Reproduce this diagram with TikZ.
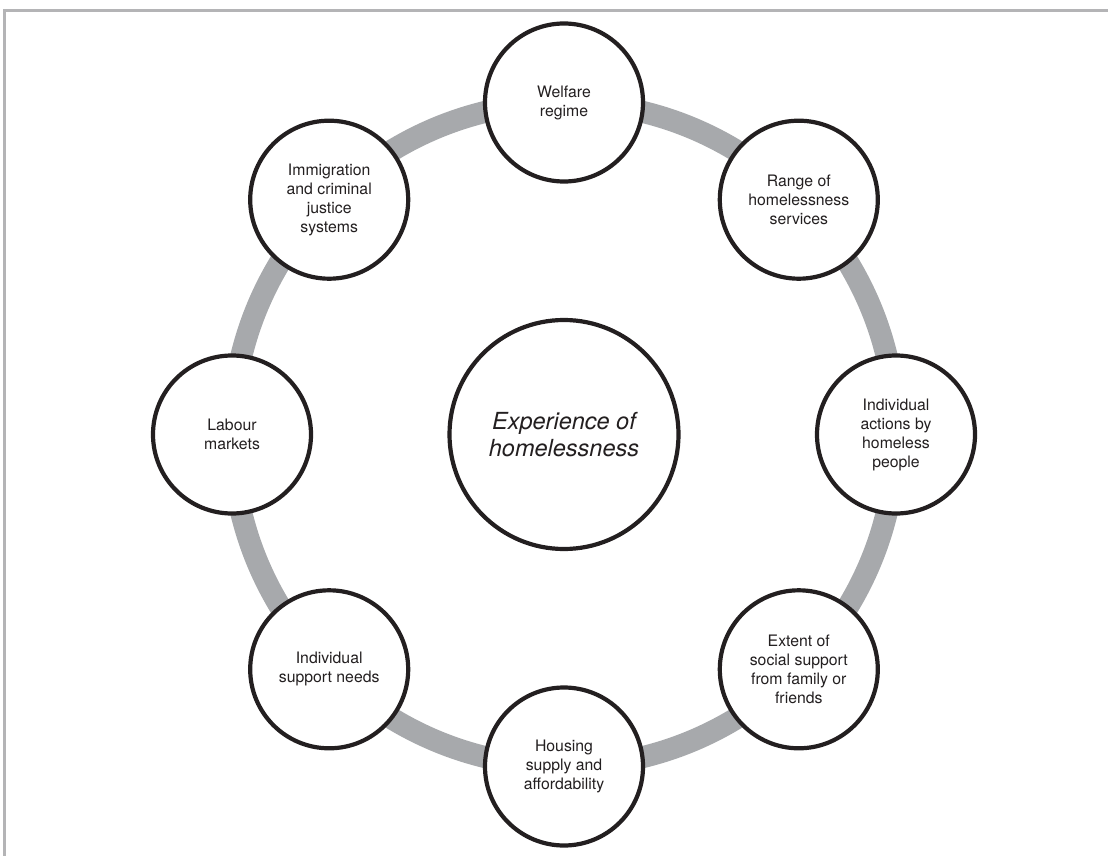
\documentclass[tikz,border=0pt]{standalone}
\usepackage{fontspec}
\setmainfont{TeX Gyre Heros}
\definecolor{ringc}{HTML}{A7A9AC}
\definecolor{framec}{HTML}{B4B4B6}
\definecolor{textc}{HTML}{231F20}
\begin{document}
\begin{tikzpicture}[x=1pt,y=-1pt,
  factor/.style={circle, draw=textc, line width=4.2pt, fill=white, minimum size=158pt, inner sep=0pt,
    align=center, text=textc, font=\fontsize{15.8}{19}\selectfont},
  core/.style={circle, draw=textc, line width=4.2pt, fill=white, minimum size=229pt, inner sep=0pt,
    align=center, text=textc, font=\fontsize{23.5}{27.5}\selectfont\itshape},
  ringline/.style={draw=ringc, line width=22pt},
  frameline/.style={draw=framec, line width=3pt}]
\useasboundingbox (0,0) rectangle (1108,856);
\coordinate (fbl) at (4,860);
\coordinate (ftl) at (4,11);
\coordinate (ftr) at (1112,11);
\draw[frameline] (fbl) -- (ftl) -- (ftr);
\coordinate (c) at (564,434.5);
\draw[ringline] (c) circle[radius=332];
\node[core] (exp) at (c) {Experience of\\homelessness};
\node[factor] (welfare) at (564,102.5) {Welfare\\regime};
\node[factor] (range) at (798.8,199.7) {Range of\\homelessness\\services};
\node[factor] (actions) at (896,434.5) {Individual\\actions by\\homeless\\people};
\node[factor] (social) at (798.8,669.3) {Extent of\\social support\\from family or\\friends};
\node[factor] (housing) at (564,766.5) {Housing\\supply and\\affordability};
\node[factor] (needs) at (329.2,669.3) {Individual\\support needs};
\node[factor] (labour) at (232,434.5) {Labour\\markets};
\node[factor] (immig) at (329.2,199.7) {Immigration\\and criminal\\justice\\systems};
\end{tikzpicture}
\end{document}
